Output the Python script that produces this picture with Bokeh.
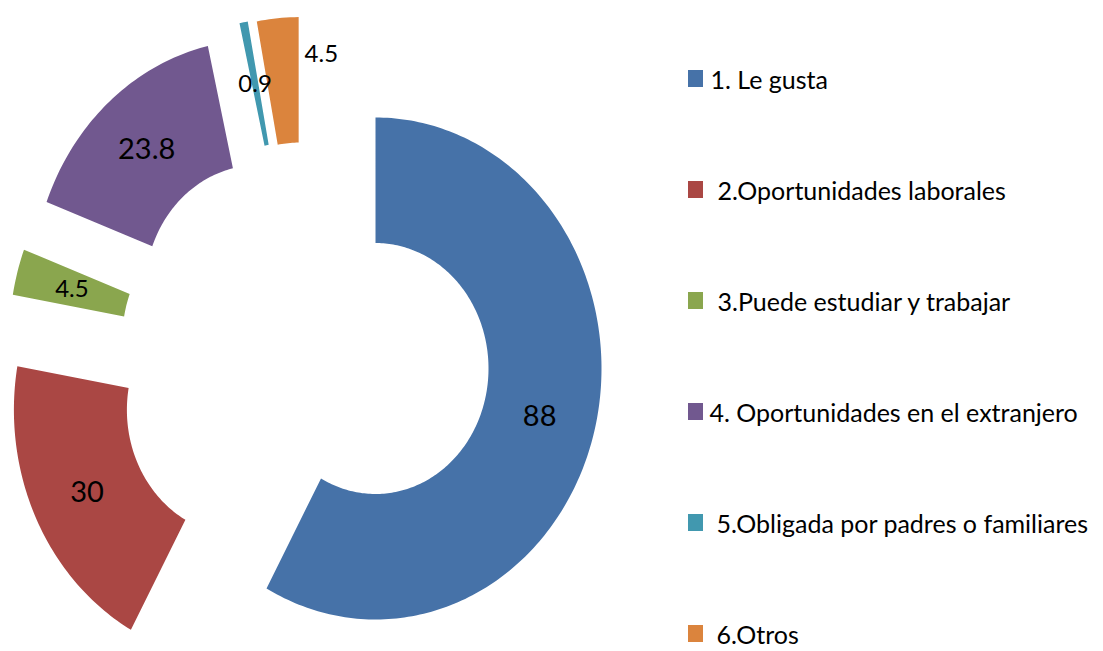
import math
from bokeh.plotting import figure
from bokeh.models import Range1d
from bokeh.core.properties import value
from bokeh.embed import file_html
from bokeh.resources import INLINE

# ---- data ----
categories = ["1. Le gusta", " 2.Oportunidades laborales", " 3.Puede estudiar y trabajar",
              "4. Oportunidades en el extranjero", " 5.Obligada por padres o familiares", " 6.Otros"]
values = [88, 30, 4.5, 23.8, 0.9, 4.5]
value_labels = ["88", "30", "4.5", "23.8", "0.9", "4.5"]

# ---- style ----
colors = ["#4672A8", "#AA4744", "#8AA64E", "#71588F", "#4198AF", "#DB843D"]
explode = [(0.0, 0.0), (-0.60, -0.165), (-0.62, 0.12), (-0.52, 0.31), (-0.38, 0.40), (-0.34, 0.40)]
label_nudge = [(0, 0), (0, 0), (0, 0), (0, 0), (0, 0), (0.17, 0.11)]
label_sizes = ["29px", "29px", "24px", "29px", "24px", "24px"]
FONT = "Lato"
R_OUT, R_IN = 1.0, 0.5

W, H = 1103, 651
# pixel scale: 226 px per unit horizontally, 251 px per unit vertically, donut center at (375,368) px
sx, sy = 226.0, 251.0
cx, cy = 375.0, 368.0
p = figure(width=W, height=H, output_backend="svg", toolbar_location=None,
           x_range=Range1d(-cx / sx, (W - cx) / sx), y_range=Range1d(-(H - cy) / sy, cy / sy),
           min_border=0)
p.axis.visible = False
p.grid.visible = False
p.outline_line_color = None
p.background_fill_color = "white"
p.border_fill_color = "white"

total = float(sum(values))
xs, ys, lx, ly = [], [], [], []
start = 0.0
for v, (dx, dy), (nx, ny) in zip(values, explode, label_nudge):
    span = v / total * 2 * math.pi
    end = start + span
    n = max(4, int(span / (2 * math.pi) * 360))
    angs = [start + (end - start) * i / n for i in range(n + 1)]
    px = [dx + R_OUT * math.sin(a) for a in angs] + [dx + R_IN * math.sin(a) for a in reversed(angs)]
    py = [dy + R_OUT * math.cos(a) for a in angs] + [dy + R_IN * math.cos(a) for a in reversed(angs)]
    xs.append(px)
    ys.append(py)
    mid = (start + end) / 2
    rm = (R_OUT + R_IN) / 2
    lx.append(dx + rm * math.sin(mid) + nx)
    ly.append(dy + rm * math.cos(mid) + ny)
    start = end

p.patches(xs, ys, fill_color=colors, line_color=None)

for i in range(len(values)):
    p.text(x=[lx[i]], y=[ly[i]], text=[value_labels[i]], text_align="center",
           text_baseline="middle", text_font=value(FONT), text_font_size=label_sizes[i],
           text_color="#000000")

# ---- legend (manual) ----
leg_sq_x = (695 - cx) / sx
leg_txt_x = [(710 - cx) / sx, (717 - cx) / sx, (717 - cx) / sx,
             (709 - cx) / sx, (716 - cx) / sx, (716 - cx) / sx]
leg_y0, leg_step = 78, 111
leg_y = [(cy - (leg_y0 + i * leg_step)) / sy for i in range(len(categories))]
p.rect(x=[leg_sq_x] * len(categories), y=leg_y, width=15, height=17,
       width_units="screen", height_units="screen", fill_color=colors, line_color=None)
p.text(x=leg_txt_x, y=leg_y, text=[c.strip() for c in categories], text_baseline="middle",
       text_align="left", text_font=value(FONT), text_font_size="25px", text_color="#000000")

open("out.html", "w").write(file_html(p, INLINE))
